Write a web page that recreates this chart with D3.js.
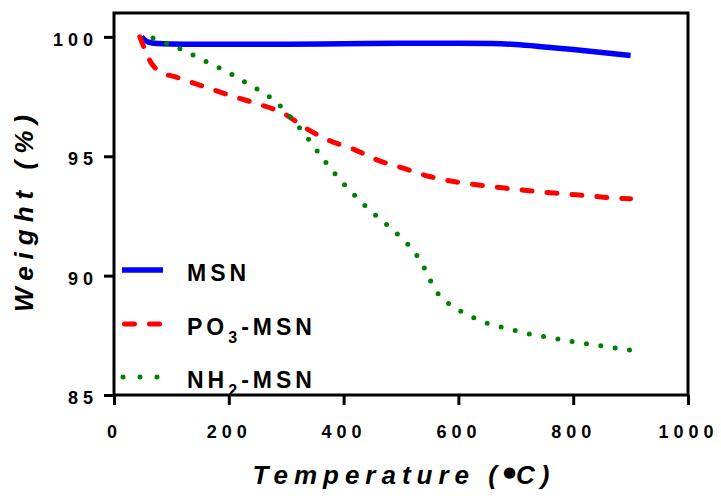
<!DOCTYPE html>
<html>
<head>
<meta charset="UTF-8">
<title>TGA curves</title>
<script src="https://cdn.jsdelivr.net/npm/d3@7"></script>
<style>
  body { margin: 0; background: #fff; }
  svg { display: block; font-family: "Liberation Sans", Arial, sans-serif; }
  .axis text { font-size: 18px; font-weight: bold; letter-spacing: 5px; fill: #000; }
  .axis line { stroke: #000; stroke-width: 3; }
  .title { font-size: 26px; font-weight: bold; font-style: italic; }
  .legend text { font-size: 23px; font-weight: bold; letter-spacing: 4px; }
</style>
</head>
<body>
<svg id="chart" width="721" height="499"></svg>
<script>
// Temperature (°C) and weight (%)
var msnTemp = [48, 52, 60, 75, 100, 200, 300, 400, 500, 600, 660, 700, 750, 800, 850, 900];
var msnWeight = [100.0, 99.9, 99.78, 99.72, 99.7, 99.69, 99.69, 99.71, 99.73, 99.73, 99.72, 99.68, 99.58, 99.47, 99.35, 99.22];

var po3Temp = [45, 55, 65, 80, 110, 159, 202, 249, 295, 336, 376, 417, 458, 504, 550, 597, 643, 690, 737, 786, 833, 878, 900];
var po3Weight = [100.0, 99.4, 98.9, 98.55, 98.3, 97.9, 97.55, 97.2, 96.8, 96.15, 95.65, 95.3, 94.85, 94.5, 94.15, 93.92, 93.77, 93.64, 93.52, 93.42, 93.33, 93.24, 93.22];

var nh2Temp = [68, 100, 124, 149, 175, 200, 225, 250, 273, 294, 312, 330, 347, 364, 382, 402, 422, 441, 462, 484, 504, 523, 539, 551, 566, 588, 613, 639, 666, 693, 721, 749, 778, 807, 836, 865, 900];
var nh2Weight = [99.95, 99.65, 99.4, 99.1, 98.8, 98.5, 98.15, 97.8, 97.45, 97.0, 96.5, 96.0, 95.45, 94.9, 94.35, 93.8, 93.3, 92.85, 92.4, 91.95, 91.5, 91.0, 90.4, 89.8, 89.2, 88.75, 88.4, 88.1, 87.9, 87.74, 87.57, 87.45, 87.33, 87.2, 87.1, 87.0, 86.88];

var xTicks = [0, 200, 400, 600, 800, 1000];
var yTicks = [85, 90, 95, 100];

var seriesNames = ['MSN', 'PO3-MSN', 'NH2-MSN'];

var series = [
  { name: seriesNames[0], temp: msnTemp, weight: msnWeight, color: '#0000ff', width: 5.5, dash: null },
  { name: seriesNames[1], temp: po3Temp, weight: po3Weight, color: '#ff0000', width: 5, dash: '10 15' },
  { name: seriesNames[2], temp: nh2Temp, weight: nh2Weight, color: '#008000', width: 5, dash: '0 14.5' }
];

var svg = d3.select('#chart');
var margin = { left: 114, right: 33, top: 13, bottom: 104 };
var W = 721, H = 499;

var x = d3.scaleLinear().domain([0, 1000]).range([margin.left, W - margin.right]);
var y = d3.scaleLinear().domain([85, 101]).range([H - margin.bottom, margin.top]);

// axes
var gx = svg.append('g').attr('class', 'axis')
  .attr('transform', 'translate(0,' + y(85) + ')')
  .call(d3.axisBottom(x).tickValues(xTicks).tickFormat(d3.format('d'))
    .tickSize(10).tickPadding(20).tickSizeOuter(0));
gx.select('.domain').remove();

var gy = svg.append('g').attr('class', 'axis')
  .attr('transform', 'translate(' + x(0) + ',0)')
  .call(d3.axisLeft(y).tickValues(yTicks).tickSize(10).tickPadding(6).tickSizeOuter(0));
gy.select('.domain').remove();
gy.selectAll('text').attr('dy', '0.47em');

// frame
svg.append('rect')
  .attr('x', x(0)).attr('y', y(101))
  .attr('width', x(1000) - x(0)).attr('height', y(85) - y(101))
  .attr('fill', 'none').attr('stroke', '#000').attr('stroke-width', 3);

// curves
var line = d3.line()
  .x(function(d) { return x(d[0]); })
  .y(function(d) { return y(d[1]); })
  .curve(d3.curveMonotoneX);

series.forEach(function(s) {
  var pts = s.temp.map(function(t, i) { return [t, s.weight[i]]; });
  svg.append('path')
    .attr('d', line(pts))
    .attr('fill', 'none')
    .attr('stroke', s.color)
    .attr('stroke-width', s.width)
    .attr('stroke-linecap', s.dash ? 'round' : 'butt')
    .attr('stroke-dasharray', s.dash);
});

// legend
var legend = svg.append('g').attr('class', 'legend');
var legendY = [270, 324, 377];
var legendLine = [[122, 163], [124.5, 162], [123, 160]];
series.forEach(function(s, i) {
  legend.append('line')
    .attr('x1', legendLine[i][0]).attr('x2', legendLine[i][1])
    .attr('y1', legendY[i]).attr('y2', legendY[i])
    .attr('stroke', s.color)
    .attr('stroke-width', s.width)
    .attr('stroke-linecap', s.dash ? 'round' : 'butt')
    .attr('stroke-dasharray', i === 2 ? '0 17' : s.dash);

  var t = legend.append('text').attr('x', 187).attr('y', legendY[i] + 11);
  var m = s.name.match(/^([A-Z]+?)(\d)(-.*)$/);
  if (m) {
    t.append('tspan').text(m[1]);
    t.append('tspan').attr('dy', 8).style('font-size', '16px').text(m[2]);
    t.append('tspan').attr('dy', -8).text(m[3]);
  } else {
    t.text(s.name);
  }
});

// axis titles
var xt = svg.append('text').attr('class', 'title')
  .attr('x', 404).attr('y', 484)
  .attr('text-anchor', 'middle')
  .style('letter-spacing', '6px');
xt.append('tspan').text('Temperature (');
xt.append('tspan').attr('dy', -7)
  .style('font-family', 'DejaVu Sans').style('font-size', '15px').style('font-style', 'normal')
  .style('letter-spacing', '0px').text('●');
xt.append('tspan').attr('dy', 7).text('C)');

svg.append('text').attr('class', 'title')
  .attr('transform', 'translate(33,210) rotate(-90)')
  .attr('text-anchor', 'middle')
  .style('letter-spacing', '7px')
  .text('Weight (%)');
</script>
</body>
</html>
